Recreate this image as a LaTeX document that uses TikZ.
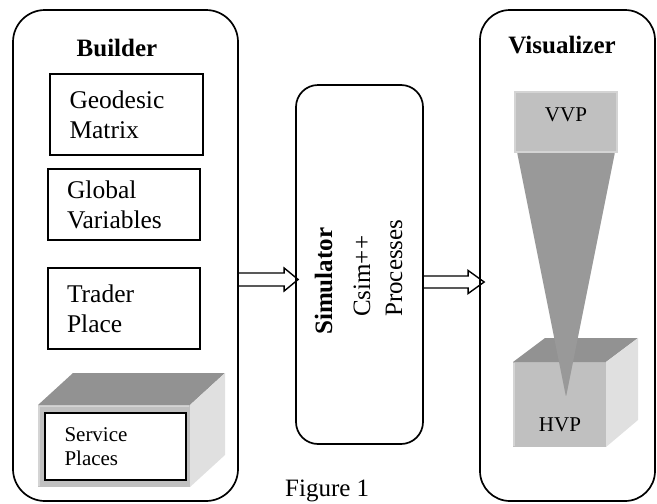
\documentclass[tikz,border=0pt]{standalone}
\usepackage{fontspec}
\setmainfont{Liberation Serif}
\usetikzlibrary{calc}
\definecolor{topgray}{HTML}{929292}
\definecolor{frontgray}{HTML}{C0C0C0}
\definecolor{sidegray}{HTML}{E0E0E0}
\definecolor{edgegray}{HTML}{D4D4D4}
\definecolor{trigray}{HTML}{999999}
\begin{document}
\begin{tikzpicture}[x=1pt,y=-1pt,
  bigbox/.style={draw, line width=1.7pt, inner sep=0pt},
  itembox/.style={draw, line width=1.4pt, minimum width=153pt, minimum height=81pt,
     inner xsep=19pt, inner ysep=0pt, text width=114pt, align=left,
     font=\fontsize{25.5}{30}\selectfont},
  title/.style={font=\fontsize{25}{30}\selectfont\bfseries, inner sep=0pt},
  txt/.style={font=\fontsize{25}{30}\selectfont, inner sep=0pt},
  small/.style={font=\fontsize{21}{24}\selectfont, inner sep=0pt},
  blk/.style={draw, line width=1.4pt, line join=miter}
]
\useasboundingbox (0,0) rectangle (657,504);
\clip (0,0) rectangle (657,504);

% main boxes
\node[bigbox, rounded corners=32pt, minimum width=225pt, minimum height=491pt] (builder) at (125.5,255.5) {};
\node[bigbox, rounded corners=22pt, minimum width=127pt, minimum height=359pt] (sim) at (359.5,264.5) {};
\node[bigbox, rounded corners=30pt, minimum width=175pt, minimum height=491pt] (vis) at (567.5,255.5) {};

% titles
\node[title, anchor=base] (btitle) at (117,56) {Builder};
\node[title, anchor=base] (vtitle) at (562,53) {Visualizer};

% builder items
\node[itembox] (geo) at (126.5,114.5) {Geodesic\\Matrix};
\node[itembox, minimum width=152pt, minimum height=71pt] (glob) at (124,204.5) {Global\\Variables};
\node[itembox, minimum width=152pt] (trader) at (124,308.5) {Trader\\Place};

% service places 3D box
\fill[frontgray] (38,405) rectangle (190,487);
\draw[edgegray, line width=2pt] (39,486) -- (39,406) -- (189,406);
\fill[topgray] (38,405) -- (73,373) -- (225,373) -- (190,405) -- cycle;
\fill[sidegray] (190,405) -- (225,373) -- (225,455) -- (190,487) -- cycle;
\node[draw, fill=white, line width=1.4pt, minimum width=141pt, minimum height=67pt,
      inner xsep=19pt, inner ysep=0pt, text width=102pt, align=left,
      font=\fontsize{21}{24}\selectfont] (svc) at (115.5,446.5) {Service\\Places};

% simulator text
\node[title, rotate=90, anchor=base west] (simT) at (332,335) {Simulator};
\node[txt, rotate=90, anchor=base west] (csim) at (370,317) {Csim++};
\node[txt, rotate=90, anchor=base west] (proc) at (402,317) {Processes};

% visualizer: HVP cube
\fill[frontgray] (513,362) rectangle (606,447);
\draw[edgegray, line width=2pt] (514,446) -- (514,363);
\fill[topgray] (513,362) -- (545,338) -- (638,338) -- (606,362) -- cycle;
\fill[sidegray] (606,362) -- (638,338) -- (638,420) -- (606,447) -- cycle;
% funnel
\fill[trigray, rounded corners=1.5pt] (517,152) -- (615,152) -- (566,397) -- cycle;
\node[small, anchor=base] (hvp) at (560,431) {HVP};
% VVP box
\node[fill=frontgray, draw=edgegray, line width=1.5pt, minimum width=102pt, minimum height=60pt] (vvp) at (566,122) {};
\node[small] (vvpT) at ([yshift=7pt]vvp.center) {VVP};

% block arrows
\coordinate (r1) at (0,279.5);
\coordinate (r2) at (0,282);
\draw[blk] ($(builder.east|-r1)+(0,-6.5)$) -- ($(sim.west|-r1)+(-11,-6.5)$)
  -- ($(sim.west|-r1)+(-11,-11.5)$) -- ($(sim.west|-r1)+(3,0)$)
  -- ($(sim.west|-r1)+(-11,11.5)$) -- ($(sim.west|-r1)+(-11,6.5)$)
  -- ($(builder.east|-r1)+(0,6.5)$);
\draw[blk] ($(sim.east|-r2)+(0,-6)$) -- ($(vis.west|-r2)+(-11,-6)$)
  -- ($(vis.west|-r2)+(-11,-11.5)$) -- ($(vis.west|-r2)+(5,0)$)
  -- ($(vis.west|-r2)+(-11,11.5)$) -- ($(vis.west|-r2)+(-11,6)$)
  -- ($(sim.east|-r2)+(0,6)$);

% caption
\node[txt, anchor=base west] (cap) at (285,496.5) {Figure 1};
\end{tikzpicture}
\end{document}
